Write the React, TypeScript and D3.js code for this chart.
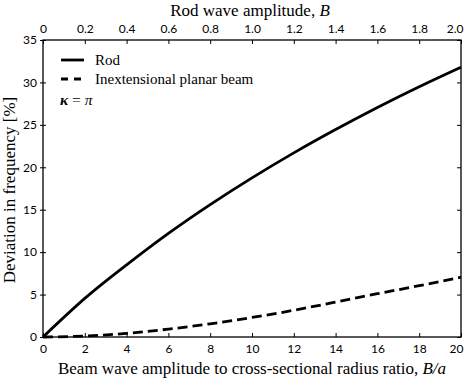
import React, { useRef, useEffect } from 'react';
import * as d3 from 'd3';

const ratio = [0, 2, 4, 6, 8, 10, 12, 14, 16, 18, 20];
const rodDev = [0, 4.55, 8.5, 12.2, 15.6, 18.75, 21.7, 24.45, 27.05, 29.5, 31.8];
const beamDev = [0, 0.11, 0.43, 0.93, 1.55, 2.3, 3.15, 4.12, 5.1, 6.05, 7.05];
const bottomTicks = [0, 2, 4, 6, 8, 10, 12, 14, 16, 18, 20];
const topTicks = [0, 0.2, 0.4, 0.6, 0.8, 1.0, 1.2, 1.4, 1.6, 1.8, 2.0];
const yTicks = [0, 5, 10, 15, 20, 25, 30, 35];

const W = 468;
const H = 379;
const m = { left: 43, right: 7, top: 40, bottom: 42 };
const tickFont = 'Lato, "Noto Sans", sans-serif';
const serif = '"Liberation Serif", "DejaVu Serif", serif';

function App() {
  const svgRef = useRef<SVGSVGElement>(null);

  useEffect(() => {
    const svg = d3.select(svgRef.current);
    const x = d3.scaleLinear().domain([0, 20]).range([m.left, W - m.right]);
    const xTop = d3.scaleLinear().domain([0, 2]).range([m.left, W - m.right]);
    const y = d3.scaleLinear().domain([0, 35]).range([H - m.bottom, m.top]);

    const style = (g: any) => {
      g.select('.domain').remove();
      g.selectAll('line').attr('stroke', '#000').attr('stroke-width', 1);
      g.selectAll('text').attr('fill', '#000').style('font-family', tickFont).style('font-size', '12px');
    };

    // last label on the x axes sits flush with the frame
    const pullLast = (g: any) => {
      g.selectAll('.tick:last-of-type text').attr('text-anchor', 'end').attr('x', 2);
    };

    svg.select('.x-axis')
      .attr('transform', `translate(0,${H - m.bottom})`)
      .call(d3.axisBottom(x).tickValues(bottomTicks).tickSize(-4).tickPadding(7) as any)
      .call(style)
      .call(pullLast);
    svg.select('.x-top')
      .attr('transform', `translate(0,${m.top})`)
      .call(d3.axisTop(xTop).tickValues(topTicks).tickSize(-4).tickPadding(7)
        .tickFormat((d: any) => (d === 0 ? '0' : d3.format('.1f')(d))) as any)
      .call(style)
      .call(pullLast);
    svg.select('.y-axis')
      .attr('transform', `translate(${m.left},0)`)
      .call(d3.axisLeft(y).tickValues(yTicks).tickSize(3).tickPadding(3) as any)
      .call(style);
    svg.select('.y-in')
      .attr('transform', `translate(${m.left},0)`)
      .call(d3.axisLeft(y).tickValues(yTicks).tickSize(-3).tickFormat(() => '') as any)
      .call(style);
    svg.select('.y-right')
      .attr('transform', `translate(${W - m.right},0)`)
      .call(d3.axisRight(y).tickValues(yTicks).tickSize(-4).tickFormat(() => '') as any)
      .call(style);

    const lineGen = (vals: number[]) =>
      d3.line<number>()
        .x((d, i) => x(ratio[i]))
        .y((d) => y(d))
        .curve(d3.curveNatural)(vals);

    svg.select('.rod').attr('d', lineGen(rodDev));
    svg.select('.beam').attr('d', lineGen(beamDev));
  }, []);

  return (
    <svg ref={svgRef} width={W} height={H} style={{ position: 'absolute', left: 0, top: 0, background: '#fff' }}>
      <rect x={m.left} y={m.top} width={W - m.left - m.right} height={H - m.top - m.bottom} fill="none" stroke="#000" strokeWidth={1.3} />
      <path className="beam" fill="none" stroke="#000" strokeWidth={2.8} strokeDasharray="10,5" />
      <path className="rod" fill="none" stroke="#000" strokeWidth={2.8} />
      <g className="x-axis" />
      <g className="x-top" />
      <g className="y-axis" />
      <g className="y-in" />
      <g className="y-right" />

      <g fontFamily={serif} fill="#000">
        <text x={250} y={16} fontSize={17} textAnchor="middle">
          Rod wave amplitude, <tspan fontStyle="italic">B</tspan>
        </text>
        <text x={252} y={374} fontSize={17} textAnchor="middle">
          Beam wave amplitude to cross-sectional radius ratio, <tspan fontStyle="italic">B/a</tspan>
        </text>
        <text transform="translate(15,190) rotate(-90)" fontSize={17} textAnchor="middle">
          Deviation in frequency [%]
        </text>

        <line x1={61} x2={84} y1={60} y2={60} stroke="#000" strokeWidth={2.8} />
        <text x={95} y={65} fontSize={15}>Rod</text>
        <line x1={61} x2={84} y1={79} y2={79} stroke="#000" strokeWidth={2.8} strokeDasharray="7,6" />
        <text x={95} y={84} fontSize={15}>Inextensional planar beam</text>
        <text x={60} y={105} fontSize={15.5}>
          <tspan fontStyle="italic" fontWeight="bold">κ</tspan> = <tspan fontStyle="italic">π</tspan>
        </text>
      </g>
    </svg>
  );
}

export default App;
